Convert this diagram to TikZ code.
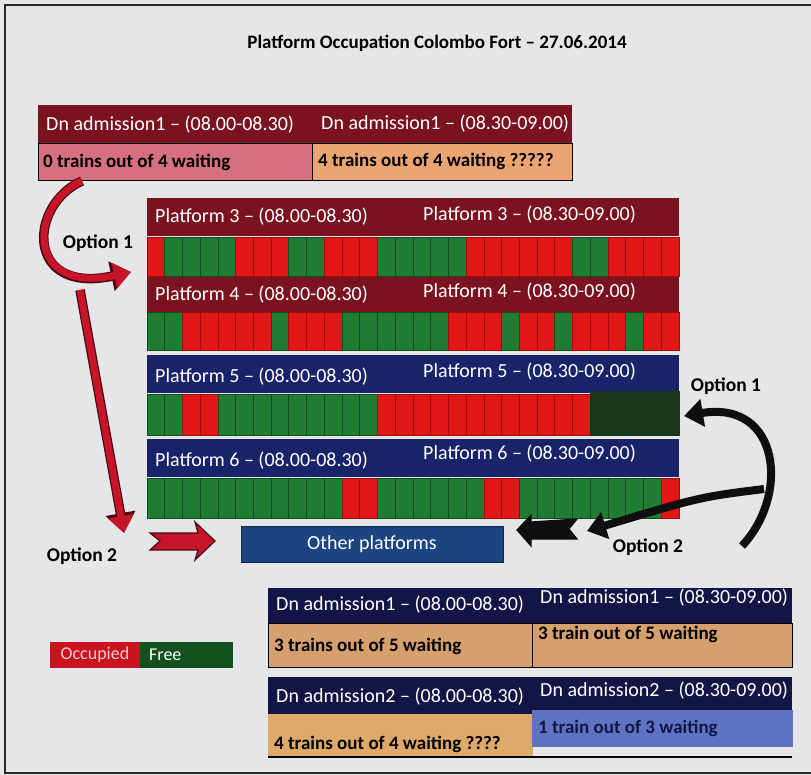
\documentclass[tikz,border=0pt]{standalone}
\usepackage{fontspec}
\setmainfont{Carlito}
\usetikzlibrary{arrows.meta}
\definecolor{bg}{RGB}{228,230,231}
\definecolor{framec}{RGB}{40,40,40}
\definecolor{hdrred}{RGB}{122,18,32}
\definecolor{hdrblue}{RGB}{25,35,105}
\definecolor{navy}{RGB}{18,22,70}
\definecolor{cellred}{RGB}{225,22,22}
\definecolor{cellgreen}{RGB}{30,125,50}
\definecolor{dkgreen}{RGB}{22,55,28}
\definecolor{pinkc}{RGB}{214,112,126}
\definecolor{orangec}{RGB}{235,165,115}
\definecolor{tanc}{RGB}{214,160,110}
\definecolor{tanb}{RGB}{222,170,105}
\definecolor{lblue}{RGB}{95,115,195}
\definecolor{otherblue}{RGB}{28,68,128}
\definecolor{arrowred}{RGB}{200,20,40}
\definecolor{arrowdark}{RGB}{70,10,20}
\definecolor{arrowblack}{RGB}{15,15,15}
\definecolor{legred}{RGB}{200,20,30}
\definecolor{leggreen}{RGB}{20,80,30}
\begin{document}
\begin{tikzpicture}[x=1pt,y=-1pt,
  hdrtxt/.style={text=white,font=\fontsize{20}{24}\selectfont,anchor=west,inner sep=0pt},
  celltxt/.style={text=black,font=\bfseries\fontsize{19}{22}\selectfont,anchor=west,inner sep=0pt},
  opttxt/.style={text=black,font=\bfseries\fontsize{19.5}{23}\selectfont,inner sep=0pt},
  boxline/.style={draw=black,line width=0.8pt},
  cellR/.style={fill=cellred,draw=cellred!70!black,line width=0.8pt},
  cellG/.style={fill=cellgreen,draw=cellgreen!60!black,line width=0.8pt},
  cellD/.style={fill=dkgreen,draw=dkgreen},
  redarrow/.style={draw=arrowred,line width=7pt,-{Triangle[width=25pt,length=17pt]},
    preaction={draw=arrowdark,line width=9.5pt,-{Triangle[width=29pt,length=20pt]}}},
  blackarrow/.style={draw=arrowblack,line width=8pt,-{Triangle[width=27pt,length=19pt]}},
  chevron/.style={line width=1.2pt,line join=miter}
]
\useasboundingbox (0,0) rectangle (811,775);
\fill[bg] (0,0) rectangle (811,775);
\draw[framec,line width=2.5pt] (811,5) -- (5,5) -- (5,773) -- (811,773);

% title
\node[text=black,font=\bfseries\fontsize{19}{23}\selectfont,inner sep=0pt] (title) at (437,43) {Platform Occupation Colombo Fort -- 27.06.2014};

% top admission box
\fill[hdrred] (38,105) rectangle (572,143);
\filldraw[fill=pinkc,boxline] (38,143) rectangle (312,180);
\filldraw[fill=orangec,boxline] (312,143) rectangle (572,180);
\node[hdrtxt] (ta1) at (46,125) {Dn admission1 -- (08.00-08.30)};
\node[hdrtxt] (ta2) at (321,124) {Dn admission1 -- (08.30-09.00)};
\node[celltxt] (tc1) at (43,162) {0 trains out of 4 waiting};
\node[celltxt] (tc2) at (318,161) {4 trains out of 4 waiting ?????};

% platform headers
\fill[hdrred] (147,198) rectangle (679,236);
\fill[hdrred] (147,276) rectangle (679,312);
\fill[hdrblue] (147,355) rectangle (679,393);
\fill[hdrblue] (147,439) rectangle (679,477);
\node[hdrtxt] (p3a) at (155,217) {Platform 3 -- (08.00-08.30)};
\node[hdrtxt] (p3b) at (423,215) {Platform 3 -- (08.30-09.00)};
\node[hdrtxt] (p4a) at (155,295) {Platform 4 -- (08.00-08.30)};
\node[hdrtxt] (p4b) at (423,292) {Platform 4 -- (08.30-09.00)};
\node[hdrtxt] (p5a) at (155,377) {Platform 5 -- (08.00-08.30)};
\node[hdrtxt] (p5b) at (423,372) {Platform 5 -- (08.30-09.00)};
\node[hdrtxt] (p6a) at (155,461) {Platform 6 -- (08.00-08.30)};
\node[hdrtxt] (p6b) at (423,454) {Platform 6 -- (08.30-09.00)};

% occupation bars (30 slots each)
\foreach \c [count=\i from 0] in {R,G,G,G,G,R,R,R,G,G,R,R,R,G,G,G,G,G,R,R,R,R,R,R,G,G,R,R,R,R}
  {\path[cell\c] ({147+\i*17.7333},237) rectangle ++(17.7333,39);}
\foreach \c [count=\i from 0] in {G,G,R,R,R,R,R,G,R,R,R,G,G,G,G,G,G,R,R,R,G,R,R,G,R,R,R,G,R,R}
  {\path[cell\c] ({147+\i*17.7333},312) rectangle ++(17.7333,38);}
\foreach \c [count=\i from 0] in {G,G,R,R,G,G,G,G,G,G,G,G,G,R,R,R,R,R,R,R,R,R,R,R,R}
  {\path[cell\c] ({147+\i*17.7333},394) rectangle ++(17.7333,41);}
\path[cellD] ({147+25*17.7333},391) rectangle (679,435);
\foreach \c [count=\i from 0] in {G,G,G,G,G,G,G,G,G,G,G,R,R,G,G,G,G,G,G,R,R,G,G,G,G,G,G,G,G,R}
  {\path[cell\c] ({147+\i*17.7333},478) rectangle ++(17.7333,40);}

% other platforms
\node[fill=otherblue,draw=otherblue!60!black,minimum width=262pt,minimum height=36pt,inner sep=0pt,
  text=white,font=\fontsize{20}{24}\selectfont] (other) at (372,544) {Other platforms};

% chevrons
\filldraw[chevron,fill=arrowred,draw=arrowdark] (150,533) -- (198,533) -- (195,522) -- (215,541) -- (195,560) -- (198,550) -- (150,550) -- (160,541) -- cycle;
\filldraw[chevron,fill=arrowblack,draw=arrowblack] (517,530) -- (531,515) -- (531,522) -- (577,519) -- (569,529) -- (577,539) -- (531,539) -- (531,546) -- cycle;

% left arrows
\coordinate (l1s) at (82,181);
\coordinate (l1e) at (131,272);
\coordinate (l2s) at (80,290);
\coordinate (l2e) at (124,533);
\draw[redarrow] (l1s) .. controls (28,205) and (25,295) .. (l1e);
\draw[redarrow] (l2s) -- (l2e);
\node[opttxt] (o1l) at (98,243) {Option 1};
\node[opttxt] (o2l) at (82,556) {Option 2};

% right arrows
\coordinate (r1s) at (742,546);
\coordinate (r1e) at (684,416);
\coordinate (r2s) at (764,489);
\coordinate (r2e) at (587,531);
\draw[blackarrow] (r1s) .. controls (790,495) and (780,400) .. (r1e);
\draw[blackarrow] (r2s) .. controls (700,497) .. (r2e);
\node[opttxt] (o1r) at (726,386) {Option 1};
\node[opttxt] (o2r) at (648,547) {Option 2};

% bottom box A
\fill[navy] (268,588) rectangle (792,623);
\filldraw[fill=tanc,boxline] (268,623) rectangle (532,667);
\filldraw[fill=tanc,boxline] (532,623) rectangle (792,667);
\node[hdrtxt] (ba1) at (276,605) {Dn admission1 -- (08.00-08.30)};
\node[hdrtxt] (ba2) at (540,598) {Dn admission1 -- (08.30-09.00)};
\node[celltxt] (bc1) at (274,646) {3 trains out of 5 waiting};
\node[celltxt] (bc2) at (538,634) {3 train out of 5 waiting};

% bottom box B
\fill[navy] (268,677) rectangle (792,714);
\filldraw[fill=tanb,draw=tanb] (268,714) rectangle (532,757);
\filldraw[fill=lblue,draw=lblue] (532,710) rectangle (792,746);
\draw[black,line width=1.5pt] (268,757) -- (792,757);
\node[hdrtxt] (bb1) at (276,697) {Dn admission2 -- (08.00-08.30)};
\node[hdrtxt] (bb2) at (540,691) {Dn admission2 -- (08.30-09.00)};
\node[celltxt] (bd1) at (274,744) {4 trains out of 4 waiting ????};
\node[celltxt,text=navy] (bd2) at (538,728) {1 train out of 3 waiting};

% legend
\node[fill=legred,minimum width=90pt,minimum height=26pt,inner sep=0pt,text=red!20!white,
  font=\fontsize{18}{21}\selectfont] (occ) at (95,655) {Occupied};
\node[fill=leggreen,minimum width=93pt,minimum height=26pt,inner sep=0pt,anchor=west] (free) at (occ.east) {};
\node[text=white,font=\fontsize{18}{21}\selectfont,anchor=west,inner sep=0pt] (freet) at (149,655) {Free};
\end{tikzpicture}
\end{document}
